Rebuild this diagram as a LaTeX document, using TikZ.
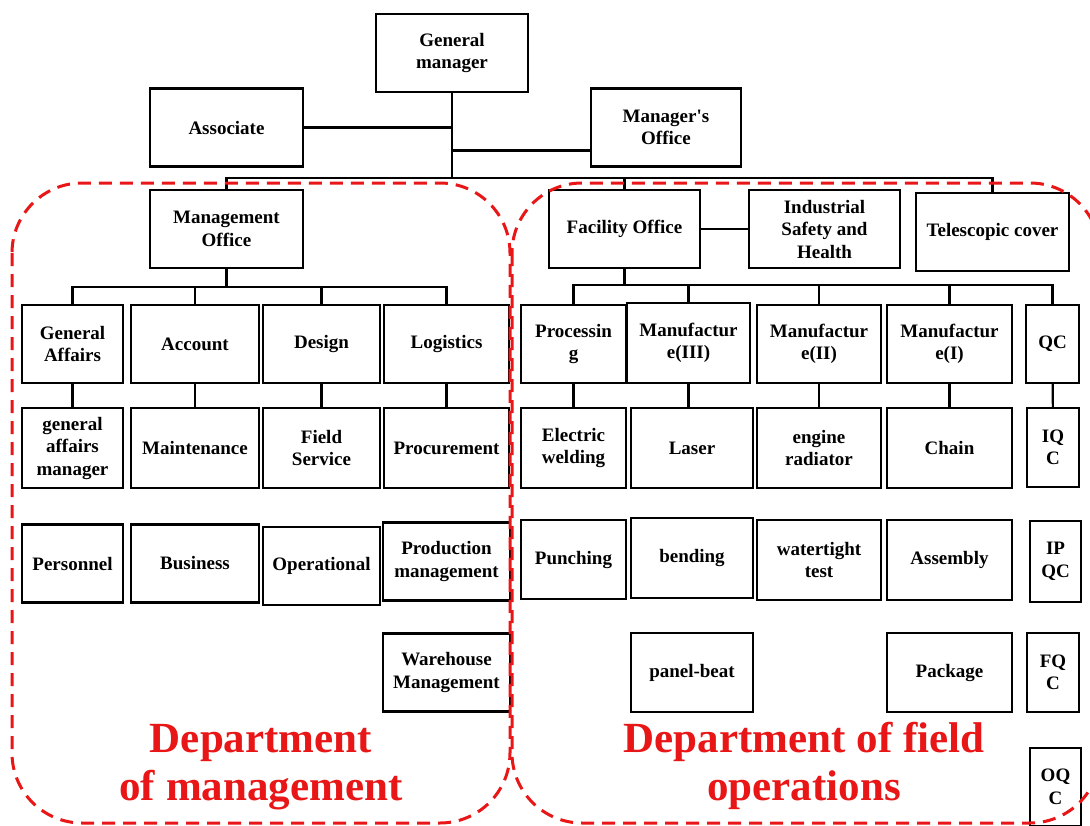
\documentclass[tikz,border=0pt]{standalone}
\usepackage{fontspec}
\setmainfont{Liberation Serif}
\definecolor{deptred}{RGB}{232,22,22}

\begin{document}
\begin{tikzpicture}[x=1pt,y=-1pt,
	box/.style={draw,line width=2.3pt,inner sep=2pt,align=center,minimum height=78pt,
		font=\fontsize{19}{22.5}\selectfont\bfseries},
	link/.style={line width=2.1pt},
	region/.style={draw=deptred,line width=3pt,dash pattern=on 13pt off 8pt,rounded corners=70pt},
	depttext/.style={text=deptred,align=center,anchor=base,
		font=\fontsize{43}{48}\selectfont\bfseries}]
			\useasboundingbox (0,0) rectangle (1090,825);
			% top level
			\node[box,minimum width=152pt] (gm) at (452,53) {General\\manager};
			\node[box,minimum width=153pt] (assoc) at (226.5,127.5) {Associate};
			\node[box,minimum width=150pt] (mgroff) at (666,127.5) {Manager\textquotesingle s\\Office};
			\node[box,minimum width=153pt] (mgmt) at (226.5,229) {Management\\Office};
			\node[box,minimum width=151pt] (fac) at (624.5,229) {Facility Office};
			\node[box,minimum width=151pt] (ish) at (824.5,229) {Industrial\\Safety and\\Health};
			\node[box,minimum width=153pt] (tele) at (992.5,232) {Telescopic cover};
			% management side
			\node[box,minimum width=101pt] (ga) at (72.5,344) {General\\Affairs};
			\node[box,minimum width=128pt] (acct) at (195,344) {Account};
			\node[box,minimum width=117pt] (design) at (321.5,344) {Design};
			\node[box,minimum width=125pt] (logi) at (446.5,344) {Logistics};
			\node[box,minimum width=101pt,minimum height=80pt] (gam) at (72.5,448) {general\\affairs\\manager};
			\node[box,minimum width=128pt,minimum height=80pt] (maint) at (195,448) {Maintenance};
			\node[box,minimum width=117pt,minimum height=80pt] (field) at (321.5,448) {Field\\Service};
			\node[box,minimum width=125pt,minimum height=80pt] (procure) at (446.5,448) {Procurement};
			\node[box,minimum width=101pt] (pers) at (72.5,563.5) {Personnel};
			\node[box,minimum width=128pt] (biz) at (195,563.5) {Business};
			\node[box,minimum width=117pt] (oper) at (321.5,566) {Operational};
			\node[box,minimum width=127pt] (prodm) at (446.5,561.5) {Production\\management};
			\node[box,minimum width=127pt] (ware) at (446.5,672.5) {Warehouse\\Management};
			% field side
			\node[box,minimum width=105pt] (proc) at (573.5,344) {Processin\\g};
			\node[box,minimum width=123pt,minimum height=80pt] (m3) at (688.5,343) {Manufactur\\e(III)};
			\node[box,minimum width=124pt] (m2) at (819,344) {Manufactur\\e(II)};
			\node[box,minimum width=125pt] (m1) at (949.5,344) {Manufactur\\e(I)};
			\node[box,minimum width=53pt] (qc) at (1052.5,344) {QC};
			\node[box,minimum width=105pt,minimum height=80pt] (weld) at (573.5,448) {Electric\\welding};
			\node[box,minimum width=122pt,minimum height=80pt] (laser) at (692,448) {Laser};
			\node[box,minimum width=124pt,minimum height=80pt] (engine) at (819,448) {engine\\radiator};
			\node[box,minimum width=125pt,minimum height=80pt] (chain) at (949.5,448) {Chain};
			\node[box,minimum width=52pt,minimum height=79pt] (iqc) at (1053,447.5) {IQ\\C};
			\node[box,minimum width=105pt,minimum height=79pt] (punch) at (573.5,559.5) {Punching};
			\node[box,minimum width=122pt,minimum height=80pt] (bend) at (692,558) {bending};
			\node[box,minimum width=124pt,minimum height=80pt] (water) at (819,560) {watertight\\test};
			\node[box,minimum width=125pt,minimum height=80pt] (assy) at (949.5,560) {Assembly};
			\node[box,minimum width=51pt,minimum height=81pt] (ipqc) at (1055.5,561.5) {IP\\QC};
			\node[box,minimum width=122pt,minimum height=79pt] (panel) at (692,672.5) {panel-beat};
			\node[box,minimum width=125pt,minimum height=79pt] (pack) at (949.5,672.5) {Package};
			\node[box,minimum width=52pt,minimum height=79pt] (fqc) at (1053,672.5) {FQ\\C};
			\node[box,minimum width=51pt,minimum height=78pt] (oqc) at (1055.5,787) {OQ\\C};
			% top connectors
			\coordinate (topbus) at (452,178);
			\coordinate (mojoin) at ([yshift=-23pt]mgroff.west);
			\draw[link] (gm.south) -- (gm.south |- topbus);
			\draw[link] (assoc.east) -- (assoc.east -| gm.south);
			\draw[link] (mojoin) -- (mojoin -| gm.south);
			\draw[link] (mgmt.north) |- (tele.north |- topbus) -- (tele.north);
			\draw[link] (fac.north) -- (fac.north |- topbus);
			\draw[link] (fac) -- (ish);
			% management connectors
			\coordinate (mgmtbus) at (226.5,287);
			\draw[link] (mgmt.south) -- (mgmtbus);
			\draw[link] (ga.north) |- (logi.north |- mgmtbus) -- (logi.north);
			\draw[link] (acct.north) -- (acct.north |- mgmtbus);
			\draw[link] (design.north) -- (design.north |- mgmtbus);
			\draw[link] (ga) -- (gam);
			\draw[link] (acct) -- (maint);
			\draw[link] (design) -- (field);
			\draw[link] (logi) -- (procure);
			% field connectors
			\coordinate (facbus) at (624.5,285);
			\draw[link] (fac.south) -- (facbus);
			\draw[link] (proc.north) |- (qc.north |- facbus) -- (qc.north);
			\draw[link] (m3.north) -- (m3.north |- facbus);
			\draw[link] (m2.north) -- (m2.north |- facbus);
			\draw[link] (m1.north) -- (m1.north |- facbus);
			\draw[link] (proc) -- (weld);
			\draw[link] (m3.south) -- (m3.south |- laser.north);
			\draw[link] (m2) -- (engine);
			\draw[link] (m1) -- (chain);
			\draw[link] (qc) -- (iqc);
			% departments
			\draw[region] (12,183) rectangle (510,823);
			\draw[region] (512,183) rectangle (1100,823);
			\node[depttext] (mgmtlabel) at (261,800) {Department\\of management};
			\node[depttext] (fieldlabel) at (804,800) {Department of field\\operations};
		\end{tikzpicture}
\end{document}
